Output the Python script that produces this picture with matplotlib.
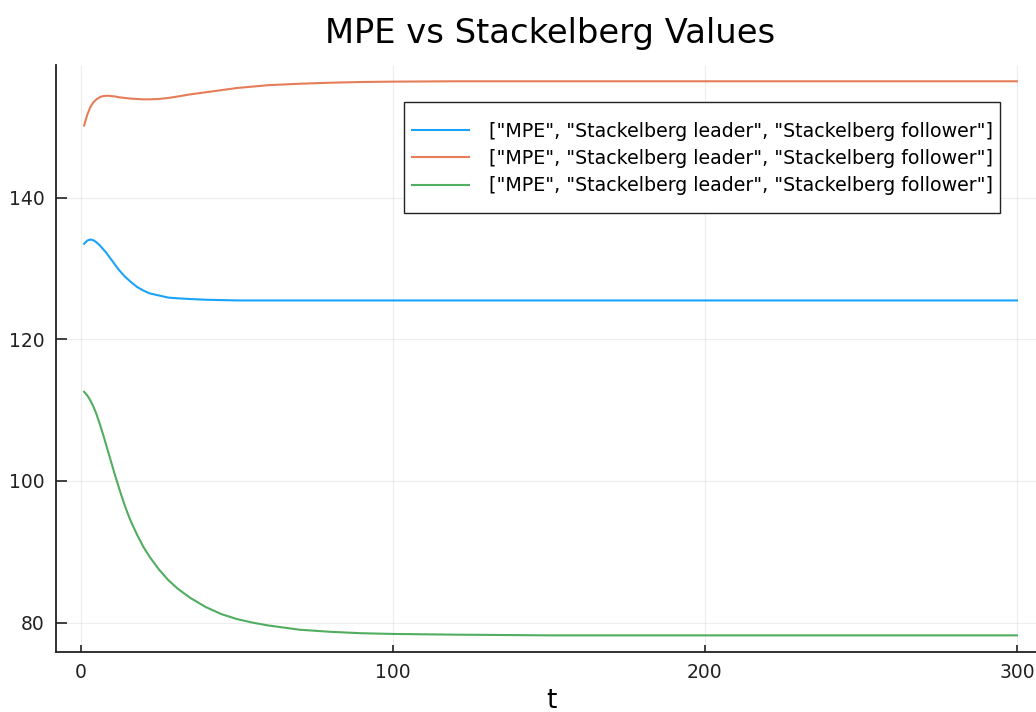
import matplotlib
matplotlib.use("Agg")
import matplotlib.pyplot as plt
from matplotlib.patches import Rectangle

# values
t = [1, 2, 3, 4, 5, 6, 7, 8, 9, 10, 11, 12, 13, 14, 15, 16, 18, 20, 22, 25,
     28, 31, 35, 40, 45, 50, 55, 60, 65, 70, 80, 90, 100, 120, 150, 200,
     250, 300]
mpe = [133.5, 133.95, 134.1, 134.0, 133.7, 133.3, 132.8, 132.3, 131.7,
       131.1, 130.5, 129.9, 129.4, 128.9, 128.5, 128.1, 127.4, 126.9, 126.5,
       126.2, 125.9, 125.8, 125.7, 125.6, 125.55, 125.5, 125.5, 125.5, 125.5,
       125.5, 125.5, 125.5, 125.5, 125.5, 125.5, 125.5, 125.5, 125.5]
leader = [150.2, 151.7, 152.8, 153.5, 153.9, 154.2, 154.35, 154.4, 154.4,
          154.35, 154.3, 154.2, 154.15, 154.1, 154.05, 154.0, 153.95, 153.9,
          153.9, 153.95, 154.1, 154.3, 154.6, 154.9, 155.2, 155.5, 155.7,
          155.9, 156.0, 156.1, 156.25, 156.35, 156.4, 156.45, 156.45, 156.45,
          156.45, 156.45]
follower = [112.6, 112.1, 111.4, 110.5, 109.4, 108.1, 106.7, 105.2, 103.7,
            102.2, 100.7, 99.3, 97.9, 96.6, 95.4, 94.3, 92.4, 90.7, 89.3,
            87.5, 86.0, 84.8, 83.5, 82.2, 81.2, 80.5, 80.0, 79.6, 79.3, 79.0,
            78.7, 78.5, 78.4, 78.3, 78.2, 78.2, 78.2, 78.2]

label = '["MPE", "Stackelberg leader", "Stackelberg follower"]'
colors = ["#009AFA", "#E36F47", "#3EA44E"]

W, H = 1036, 712
fig = plt.figure(figsize=(W / 100, H / 100), dpi=100)
ax = fig.add_axes([56 / W, 60 / H, 989 / W, 587 / H])

for ys, c in zip([mpe, leader, follower], colors):
    ax.plot(t, ys, color=c, lw=1.5, alpha=0.9, label=label)

ax.set_xlim(-8, 309)
ax.set_ylim(75.85, 158.75)
ax.set_xticks([0, 100, 200, 300])
ax.set_yticks([80, 100, 120, 140])
ax.grid(True, color="black", alpha=0.07, lw=0.8)

for s in ["top", "right"]:
    ax.spines[s].set_visible(False)
for s in ["left", "bottom"]:
    ax.spines[s].set_linewidth(1.3)
    ax.spines[s].set_color("#222222")

ax.tick_params(axis="y", direction="in", length=8, width=1.2, labelsize=13.5,
               colors="#222222", pad=8)
ax.tick_params(axis="x", direction="in", length=5, width=1.2, labelsize=13.5,
               colors="#222222", pad=8)

fig.text(550 / W, 1 - 33 / H, "MPE vs Stackelberg Values",
         fontsize=24.3, ha="center", va="center")
fig.text(551 / W, 1 - 701 / H, "t", fontsize=19, ha="center", va="center")

# legend frame drawn separately (taller padding than the side padding)
ax.add_patch(Rectangle((404 / W, 1 - 213 / H), 596 / W, 111 / H,
                       transform=fig.transFigure, facecolor="white",
                       edgecolor="#222222", lw=1.0, zorder=4, clip_on=False))
leg = ax.legend(loc="center right", bbox_to_anchor=(0.9575, 0.8407),
                borderaxespad=0, fontsize=13.7, frameon=False,
                handlelength=3.0, handletextpad=1.05, borderpad=0.5,
                labelspacing=0.44)
leg.set_zorder(5)

fig.savefig("out.png", dpi=100)
